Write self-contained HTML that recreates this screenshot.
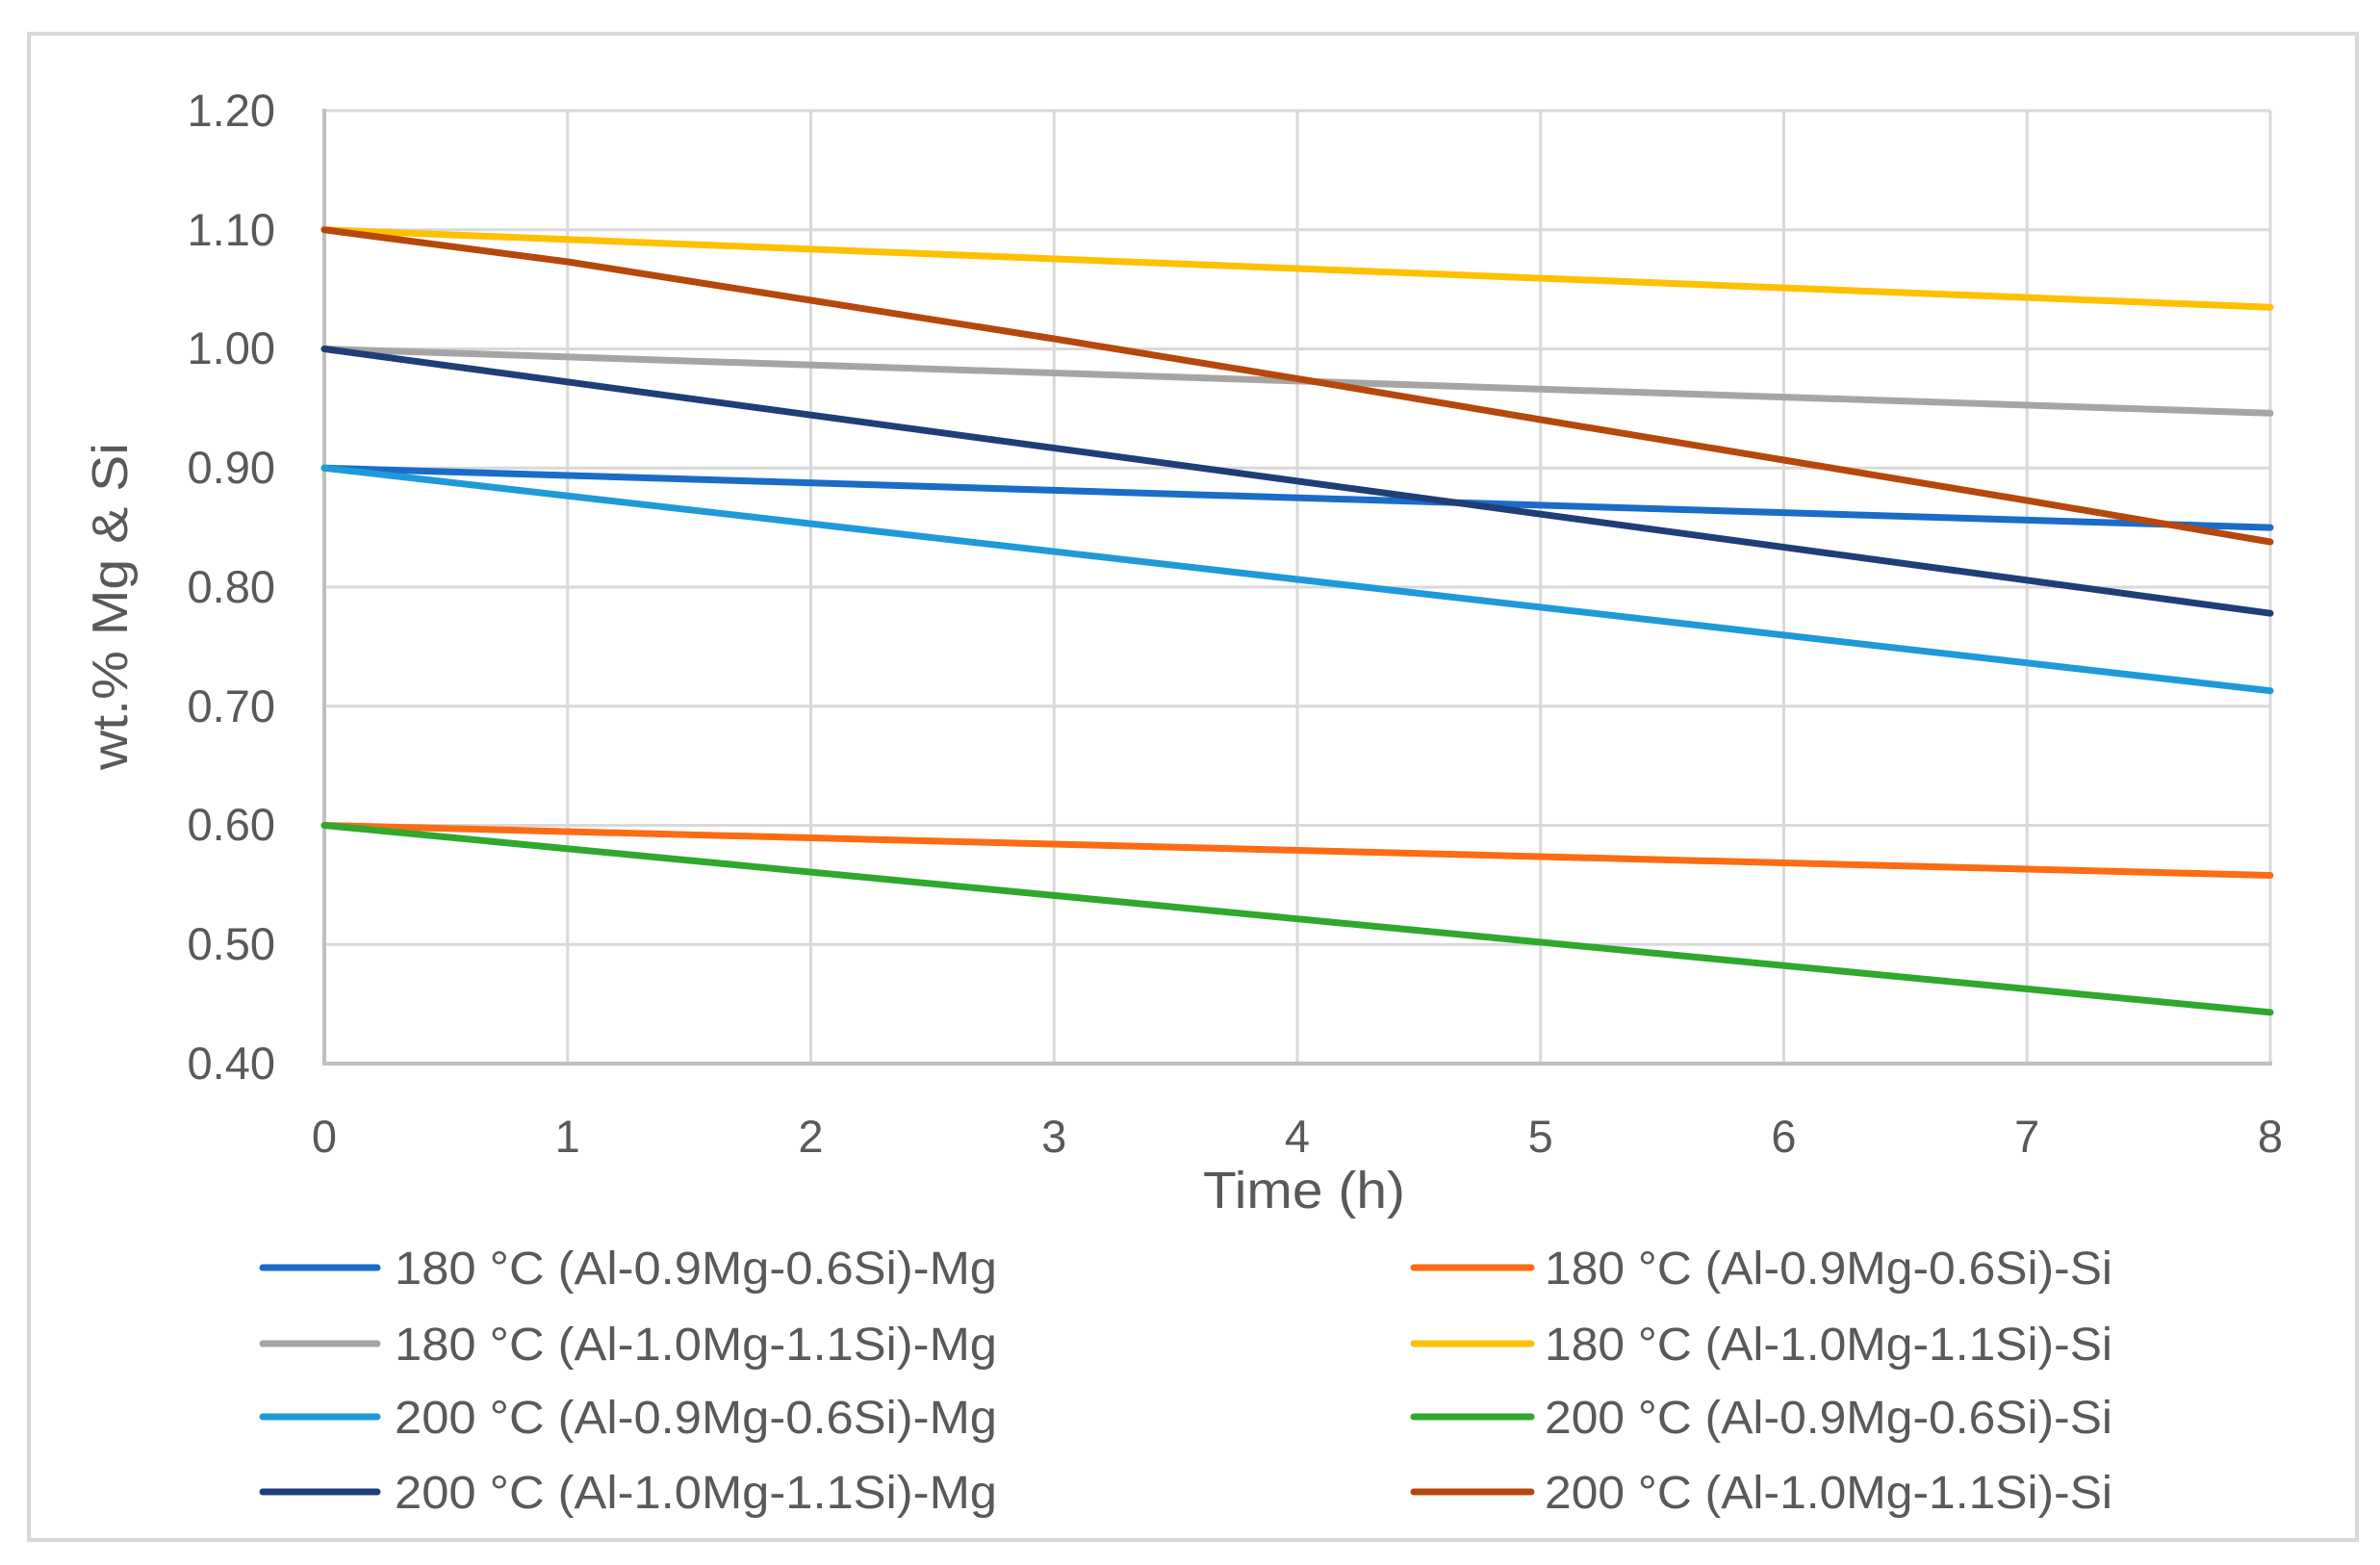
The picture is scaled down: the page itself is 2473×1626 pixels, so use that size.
<!DOCTYPE html>
<html><head><meta charset="utf-8"><style>
html,body{margin:0;padding:0;background:#fff;}
svg{display:block;}
text{font-family:"Liberation Sans",sans-serif;fill:#595959;}
</style></head><body>
<svg width="2473" height="1626" viewBox="0 0 2473 1626" xmlns="http://www.w3.org/2000/svg">
<rect x="0" y="0" width="2473" height="1626" fill="#fff"/>
<rect x="30" y="35" width="2419" height="1565" fill="none" stroke="#d9d9d9" stroke-width="4"/>
<g stroke="#d9d9d9" stroke-width="3">
<line x1="337" y1="115" x2="2359" y2="115"/>
<line x1="337" y1="238.75" x2="2359" y2="238.75"/>
<line x1="337" y1="362.5" x2="2359" y2="362.5"/>
<line x1="337" y1="486.25" x2="2359" y2="486.25"/>
<line x1="337" y1="610" x2="2359" y2="610"/>
<line x1="337" y1="733.75" x2="2359" y2="733.75"/>
<line x1="337" y1="857.5" x2="2359" y2="857.5"/>
<line x1="337" y1="981.25" x2="2359" y2="981.25"/>
<line x1="589.75" y1="115" x2="589.75" y2="1105"/>
<line x1="842.5" y1="115" x2="842.5" y2="1105"/>
<line x1="1095.25" y1="115" x2="1095.25" y2="1105"/>
<line x1="1348" y1="115" x2="1348" y2="1105"/>
<line x1="1600.75" y1="115" x2="1600.75" y2="1105"/>
<line x1="1853.5" y1="115" x2="1853.5" y2="1105"/>
<line x1="2106.25" y1="115" x2="2106.25" y2="1105"/>
<line x1="2359" y1="115" x2="2359" y2="1105"/>
</g>
<g stroke="#bfbfbf" stroke-width="4">
<line x1="337" y1="113" x2="337" y2="1105"/>
<line x1="335" y1="1105" x2="2361" y2="1105"/>
</g>
<g font-size="47" text-anchor="end">
<text x="286" y="131">1.20</text>
<text x="286" y="255">1.10</text>
<text x="286" y="378">1.00</text>
<text x="286" y="502">0.90</text>
<text x="286" y="626">0.80</text>
<text x="286" y="750">0.70</text>
<text x="286" y="873">0.60</text>
<text x="286" y="997">0.50</text>
<text x="286" y="1121">0.40</text>
</g>
<g font-size="47" text-anchor="middle">
<text x="337" y="1197">0</text>
<text x="589.75" y="1197">1</text>
<text x="842.5" y="1197">2</text>
<text x="1095.25" y="1197">3</text>
<text x="1348" y="1197">4</text>
<text x="1600.75" y="1197">5</text>
<text x="1853.5" y="1197">6</text>
<text x="2106.25" y="1197">7</text>
<text x="2359" y="1197">8</text>
</g>
<text x="1355" y="1255" font-size="54" text-anchor="middle" textLength="210" lengthAdjust="spacingAndGlyphs">Time (h)</text>
<text transform="translate(132,630) rotate(-90)" font-size="52" text-anchor="middle" textLength="340" lengthAdjust="spacingAndGlyphs">wt.% Mg &amp; Si</text>
<g fill="none" stroke-width="7" stroke-linecap="round" stroke-linejoin="round">
<line x1="337" y1="486.25" x2="2359" y2="548.1" stroke="#1a6cc8"/>
<line x1="337" y1="857.5" x2="2359" y2="909.5" stroke="#fb6c15"/>
<line x1="337" y1="362.5" x2="2359" y2="429.3" stroke="#a5a5a5"/>
<line x1="337" y1="238.75" x2="2359" y2="319.2" stroke="#ffc000"/>
<line x1="337" y1="486.25" x2="2359" y2="717.7" stroke="#1e9ad9"/>
<line x1="337" y1="857.5" x2="2359" y2="1051.8" stroke="#2ea82d"/>
<line x1="337" y1="362.5" x2="2359" y2="637.2" stroke="#1f3e78"/>
<polyline points="337,238.75 589.75,272 842.5,312 1095.25,352 1348,393.4 1600.75,436 1853.5,478 2106.25,520 2359,563" stroke="#b8470c"/>
</g>
<g stroke-width="7" stroke-linecap="round">
<line x1="273" y1="1317" x2="392" y2="1317" stroke="#1a6cc8"/>
<line x1="273" y1="1396" x2="392" y2="1396" stroke="#a5a5a5"/>
<line x1="273" y1="1472" x2="392" y2="1472" stroke="#1e9ad9"/>
<line x1="273" y1="1550" x2="392" y2="1550" stroke="#1f3e78"/>
<line x1="1469" y1="1317" x2="1591" y2="1317" stroke="#fb6c15"/>
<line x1="1469" y1="1396" x2="1591" y2="1396" stroke="#ffc000"/>
<line x1="1469" y1="1472" x2="1591" y2="1472" stroke="#2ea82d"/>
<line x1="1469" y1="1550" x2="1591" y2="1550" stroke="#b8470c"/>
</g>
<g font-size="48">
<text x="410" y="1334" textLength="626" lengthAdjust="spacingAndGlyphs">180 °C (Al-0.9Mg-0.6Si)-Mg</text>
<text x="410" y="1413" textLength="626" lengthAdjust="spacingAndGlyphs">180 °C (Al-1.0Mg-1.1Si)-Mg</text>
<text x="410" y="1489" textLength="626" lengthAdjust="spacingAndGlyphs">200 °C (Al-0.9Mg-0.6Si)-Mg</text>
<text x="410" y="1567" textLength="626" lengthAdjust="spacingAndGlyphs">200 °C (Al-1.0Mg-1.1Si)-Mg</text>
<text x="1605" y="1334" textLength="590" lengthAdjust="spacingAndGlyphs">180 °C (Al-0.9Mg-0.6Si)-Si</text>
<text x="1605" y="1413" textLength="590" lengthAdjust="spacingAndGlyphs">180 °C (Al-1.0Mg-1.1Si)-Si</text>
<text x="1605" y="1489" textLength="590" lengthAdjust="spacingAndGlyphs">200 °C (Al-0.9Mg-0.6Si)-Si</text>
<text x="1605" y="1567" textLength="590" lengthAdjust="spacingAndGlyphs">200 °C (Al-1.0Mg-1.1Si)-Si</text>
</g>
</svg>
</body></html>
